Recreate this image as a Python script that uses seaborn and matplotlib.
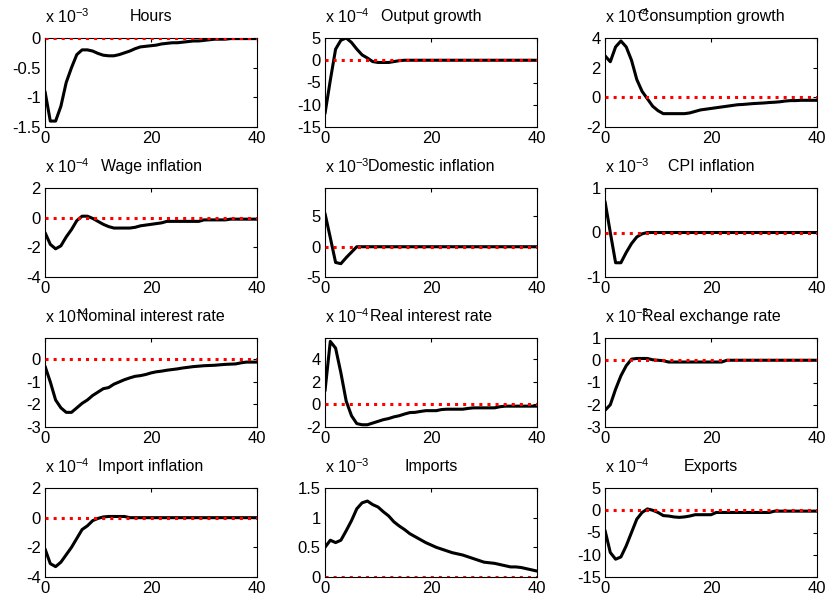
# Impulse responses, 4x3 grid in the old MATLAB look
import numpy as np
import matplotlib
matplotlib.use('Agg')
import matplotlib.pyplot as plt
import seaborn as sns

periods = list(range(41))

# values are in units of 10^exponent (exponent shown above each panel)
hours = [-0.9, -1.4, -1.4, -1.15, -0.75, -0.5, -0.28, -0.2, -0.2, -0.22,
         -0.26, -0.29, -0.3, -0.3, -0.28, -0.25, -0.22, -0.18, -0.15, -0.14,
         -0.13, -0.12, -0.1, -0.09, -0.08, -0.08, -0.07, -0.06, -0.05, -0.05,
         -0.04, -0.03, -0.02, -0.02, -0.02, -0.01, -0.01, -0.01, -0.01, -0.01, -0.01]
output_growth = [-12, -4.5, 2.5, 4.5, 5, 4, 2.5, 1.2, 0.5, -0.3,
                 -0.5, -0.5, -0.5, -0.3, -0.1, 0, 0, 0, 0, 0,
                 0, 0, 0, 0, 0, 0, 0, 0, 0, 0,
                 0, 0, 0, 0, 0, 0, 0, 0, 0, 0, 0]
consumption_growth = [2.8, 2.4, 3.4, 3.8, 3.4, 2.5, 1.2, 0.4, -0.1, -0.6,
                      -0.9, -1.1, -1.1, -1.1, -1.1, -1.1, -1.05, -0.95, -0.85, -0.8,
                      -0.75, -0.7, -0.65, -0.6, -0.55, -0.5, -0.48, -0.45, -0.42, -0.4,
                      -0.38, -0.35, -0.33, -0.3, -0.25, -0.22, -0.22, -0.2, -0.2, -0.2, -0.2]
wage_inflation = [-1.0, -1.8, -2.1, -1.9, -1.3, -0.8, -0.2, 0.1, 0.1, -0.05,
                  -0.25, -0.45, -0.6, -0.7, -0.7, -0.7, -0.7, -0.65, -0.55, -0.5,
                  -0.45, -0.4, -0.35, -0.25, -0.25, -0.25, -0.25, -0.25, -0.25, -0.25,
                  -0.15, -0.15, -0.15, -0.15, -0.15, -0.1, -0.1, -0.1, -0.1, -0.1, -0.1]
domestic_inflation = [5.5, 1.5, -2.6, -2.8, -1.8, -0.9, 0, 0, 0, 0,
                      0, 0, 0, 0, 0, 0, 0, 0, 0, 0,
                      0, 0, 0, 0, 0, 0, 0, 0, 0, 0,
                      0, 0, 0, 0, 0, 0, 0, 0, 0, 0, 0]
cpi_inflation = [0.7, 0.0, -0.68, -0.68, -0.45, -0.25, -0.1, -0.03, 0, 0,
                 0, 0, 0, 0, 0, 0, 0, 0, 0, 0,
                 0, 0, 0, 0, 0, 0, 0, 0, 0, 0,
                 0, 0, 0, 0, 0, 0, 0, 0, 0, 0, 0]
nominal_rate = [-0.3, -1.0, -1.8, -2.15, -2.35, -2.35, -2.15, -1.95, -1.8, -1.6,
                -1.45, -1.3, -1.25, -1.1, -1.0, -0.9, -0.82, -0.75, -0.72, -0.67,
                -0.6, -0.55, -0.52, -0.48, -0.45, -0.42, -0.38, -0.35, -0.32, -0.3,
                -0.28, -0.27, -0.26, -0.24, -0.22, -0.21, -0.2, -0.15, -0.12, -0.12, -0.12]
real_rate = [1.2, 5.6, 5.0, 2.8, 0.3, -1.0, -1.7, -1.8, -1.8, -1.65,
             -1.5, -1.35, -1.25, -1.1, -1.0, -0.85, -0.72, -0.7, -0.62, -0.55,
             -0.55, -0.55, -0.45, -0.42, -0.42, -0.42, -0.42, -0.35, -0.3, -0.3,
             -0.3, -0.3, -0.3, -0.2, -0.15, -0.15, -0.15, -0.15, -0.15, -0.15, -0.15]
real_exchange_rate = [-2.25, -2.0, -1.3, -0.7, -0.25, 0.05, 0.08, 0.08, 0.08, 0.02,
                      0, -0.02, -0.08, -0.08, -0.08, -0.08, -0.08, -0.08, -0.08, -0.08,
                      -0.08, -0.08, -0.08, 0, 0, 0, 0, 0, 0, 0,
                      0, 0, 0, 0, 0, 0, 0, 0, 0, 0, 0]
import_inflation = [-2.1, -3.1, -3.3, -3.0, -2.5, -2.0, -1.4, -0.8, -0.55, -0.2,
                    -0.05, 0.05, 0.08, 0.08, 0.08, 0.08, 0, 0, 0, 0,
                    0, 0, 0, 0, 0, 0, 0, 0, 0, 0,
                    0, 0, 0, 0, 0, 0, 0, 0, 0, 0, 0]
imports = [0.5, 0.62, 0.58, 0.62, 0.78, 0.95, 1.15, 1.25, 1.28, 1.22,
           1.18, 1.1, 1.03, 0.93, 0.86, 0.8, 0.73, 0.68, 0.63, 0.58,
           0.54, 0.5, 0.47, 0.44, 0.41, 0.39, 0.37, 0.34, 0.31, 0.28,
           0.25, 0.24, 0.23, 0.21, 0.19, 0.17, 0.17, 0.16, 0.14, 0.12, 0.1]
exports = [-4.5, -9.5, -11, -10.5, -8, -5, -2, -0.5, 0.3, 0,
           -0.5, -1.2, -1.3, -1.5, -1.6, -1.5, -1.3, -1.0, -1.0, -1.0,
           -1.0, -0.5, -0.5, -0.5, -0.5, -0.5, -0.5, -0.5, -0.5, -0.5,
           -0.5, -0.5, -0.2, -0.2, -0.2, -0.2, -0.2, -0.2, -0.2, -0.2, -0.2]

titles = ['Hours', 'Output growth', 'Consumption growth',
          'Wage inflation', 'Domestic inflation', 'CPI inflation',
          'Nominal interest rate', 'Real interest rate', 'Real exchange rate',
          'Import inflation', 'Imports', 'Exports']
series = [hours, output_growth, consumption_growth,
          wage_inflation, domestic_inflation, cpi_inflation,
          nominal_rate, real_rate, real_exchange_rate,
          import_inflation, imports, exports]
exponents = [-3, -4, -4, -4, -3, -3, -4, -4, -3, -4, -3, -4]
ylims = [(-1.5, 0), (-15, 5), (-2, 4), (-4, 2), (-5, 9.7), (-1, 1),
         (-3, 0.95), (-2, 5.9), (-3, 1), (-4, 2), (0, 1.5), (-15, 5)]
yticks = [[-1.5, -1, -0.5, 0], [-15, -10, -5, 0, 5], [-2, 0, 2, 4],
          [-4, -2, 0, 2], [-5, 0, 5], [-1, 0, 1],
          [-3, -2, -1, 0], [-2, 0, 2, 4], [-3, -2, -1, 0, 1],
          [-4, -2, 0, 2], [0, 0.5, 1, 1.5], [-15, -10, -5, 0, 5]]

sns.set_style('white')
plt.rcParams['font.family'] = ['Liberation Sans', 'DejaVu Sans']
plt.rcParams['mathtext.default'] = 'regular'
plt.rcParams['text.color'] = 'black'

fig, axes = plt.subplots(4, 3, figsize=(8.3, 6.04), dpi=100)
fig.subplots_adjust(left=45/830, right=817/830, top=1-38/604, bottom=1-577/604,
                    wspace=68/212, hspace=61/89)

for i, ax in enumerate(axes.flat):
    sns.lineplot(x=periods, y=series[i], ax=ax, color='black', linewidth=2.2)
    ax.axhline(0, color='red', linestyle=':', linewidth=2.2, zorder=5)
    ax.set_xlim(0, 40)
    ax.set_ylim(*ylims[i])
    ax.set_xticks([0, 20, 40])
    ax.set_yticks(yticks[i])
    ax.set_yticklabels([f'{t:g}' for t in yticks[i]])
    ax.tick_params(direction='in', length=3, width=0.8, top=True, right=True,
                   labelsize=12, pad=3, colors='black')
    for sp in ax.spines.values():
        sp.set_color('black')
        sp.set_linewidth(0.8)
    ax.set_title(titles[i], fontsize=11.5, pad=12, color='black')
    ax.text(0, 1.13, 'x 10$^{%d}$' % exponents[i], transform=ax.transAxes,
            fontsize=11.5, ha='left', va='bottom', color='black')

plt.savefig('out.png', dpi=100)
